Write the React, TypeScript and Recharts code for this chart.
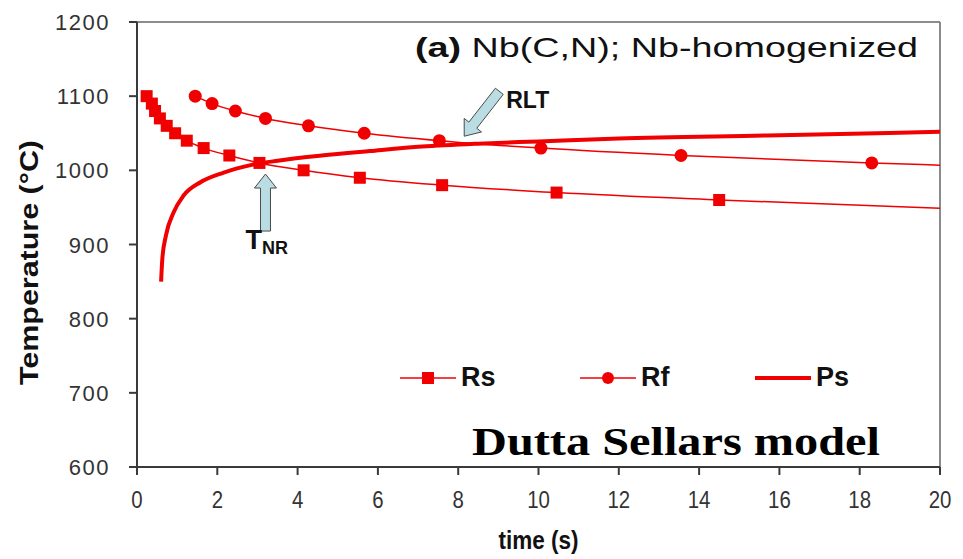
import { Line, LineChart, ReferenceDot, ReferenceLine, XAxis, YAxis } from "recharts";

const rsTime = [0.24, 0.37, 0.45, 0.57, 0.74, 0.95, 1.24, 1.66, 2.3, 3.05, 4.15, 5.55, 7.6, 10.45, 14.5, 20];
const rsTemp = [1100, 1090, 1080, 1070, 1060, 1050, 1040, 1030, 1020, 1010, 1000, 990, 980, 970, 960, 949];

const rfTime = [1.45, 1.87, 2.45, 3.2, 4.27, 5.66, 7.53, 10.06, 13.55, 18.3, 20];
const rfTemp = [1100, 1090, 1080, 1070, 1060, 1050, 1040, 1030, 1020, 1010, 1007];

const psTime = [0.6, 0.63, 0.72, 0.91, 1.16, 1.58, 2.16, 2.83, 3.5, 4.6, 5.8, 7.1, 8.5, 10, 12, 15.7, 20];
const psTemp = [850, 880, 912, 943, 966, 984, 997, 1007, 1013, 1020, 1026, 1032, 1036, 1039, 1043, 1047, 1052];

const xTicks = [0, 2, 4, 6, 8, 10, 12, 14, 16, 18, 20];
const yTicks = [600, 700, 800, 900, 1000, 1100, 1200];
const legendNames = ["Rs", "Rf", "Ps"];

// last Rs / Rf entries only extend the trend line to the frame, no marker
const rsData = rsTime.map((t, i) => ({ t, v: rsTemp[i], mark: i < rsTime.length - 1 }));
const rfData = rfTime.map((t, i) => ({ t, v: rfTemp[i], mark: i < rfTime.length - 1 }));
const psData = psTime.map((t, i) => ({ t, v: psTemp[i] }));

const RED = "#f00000";
const AXIS = "#3a3a3a";
const ARROW_FILL = "#b9dde2";
const SANS = "Liberation Sans, Arial, sans-serif";

function SquareDot(props: any) {
  const { cx, cy, payload, index } = props;
  if (!payload?.mark) return <g key={`rs-${index}`} />;
  return <rect key={`rs-${index}`} x={cx - 6} y={cy - 6} width={12} height={12} fill={RED} />;
}

function CircleDot(props: any) {
  const { cx, cy, payload, index } = props;
  if (!payload?.mark) return <g key={`rf-${index}`} />;
  return <circle key={`rf-${index}`} cx={cx} cy={cy} r={6.5} fill={RED} />;
}

const arrowShape = [
  [0, 0],
  [11, 14],
  [5, 14],
  [5, 57],
  [-5, 57],
  [-5, 14],
  [-11, 14],
];

// block arrow pointing up, tip at (cx, cy)
function UpArrow({ cx, cy }: any) {
  const pts = arrowShape.map(([x, y]) => `${cx + x},${cy + y}`).join(" ");
  return (
    <g>
      <polygon points={pts} fill={ARROW_FILL} stroke="#4a4a4a" strokeWidth={1} />
      <text x={cx - 20} y={cy + 75} fontFamily={SANS} fontWeight="bold" fontSize={27} fill="#111">
        T
        <tspan fontSize={18} dy={5}>NR</tspan>
      </text>
    </g>
  );
}

// block arrow pointing down-left, tip at (cx, cy)
function DiagArrow({ cx, cy }: any) {
  const a = (Math.PI / 180) * 38;
  const pts = arrowShape
    .map(([x, y]) => {
      const rx = x * Math.cos(a) - y * Math.sin(a);
      const ry = x * Math.sin(a) + y * Math.cos(a);
      return `${cx - rx},${cy - ry}`;
    })
    .join(" ");
  return (
    <g>
      <polygon points={pts} fill={ARROW_FILL} stroke="#4a4a4a" strokeWidth={1} />
      <text x={cx + 42} y={cy - 28} fontFamily={SANS} fontWeight="bold" fontSize={23} fill="#111">
        RLT
      </text>
    </g>
  );
}

function XTick({ x, y, payload }: any) {
  return (
    <g transform={`translate(${x} ${y})`}>
      <text x={0} y={31} textAnchor="middle" fill="#333" transform="scale(0.85 1)" style={{ fontFamily: SANS, fontSize: 24 }}>
        {payload.value}
      </text>
    </g>
  );
}

function YTick({ y, payload }: any) {
  return (
    <text x={110} y={y + 8} textAnchor="end" fill="#333" style={{ fontFamily: SANS, fontSize: 22, letterSpacing: 1.5 }}>
      {payload.value}
    </text>
  );
}

function LegendIcon({ kind }: { kind: string }) {
  return (
    <svg width={56} height={20} style={{ marginRight: 5 }}>
      <line x1={0} y1={10} x2={56} y2={10} stroke={RED} strokeWidth={kind === "Ps" ? 4 : 1.5} />
      {kind === "Rs" && <rect x={22} y={4} width={12} height={12} fill={RED} />}
      {kind === "Rf" && <circle cx={28} cy={10} r={6} fill={RED} />}
    </svg>
  );
}

const legendLeft = [400, 580, 755];

export default function App() {
  return (
    <div style={{ position: "relative", width: 963, height: 559, background: "#fff" }}>
      <style>{`body{margin:0}`}</style>
      <LineChart width={963} height={559} margin={{ top: 22, right: 23, bottom: 32, left: 0 }}>
        <XAxis
          dataKey="t"
          type="number"
          domain={[0, 20]}
          ticks={xTicks}
          allowDataOverflow
          height={60}
          stroke={AXIS}
          strokeWidth={2}
          tickSize={8}
          tick={XTick}
          label={(p: any) => {
            const vb = p.viewBox;
            const cx = vb.x + vb.width / 2;
            return (
              <g transform={`translate(${cx} ${vb.y + 82})`}>
                <text x={0} y={0} textAnchor="middle" fill="#111" transform="scale(0.9 1)" style={{ fontFamily: SANS, fontWeight: "bold", fontSize: 25 }}>
                  time (s)
                </text>
              </g>
            );
          }}
        />
        <YAxis
          dataKey="v"
          type="number"
          domain={[600, 1200]}
          ticks={yTicks}
          width={137}
          stroke={AXIS}
          strokeWidth={2}
          tickSize={8}
          tick={YTick}
          label={(p: any) => {
            const vb = p.viewBox;
            const cx = 38;
            const cy = vb.y + vb.height / 2 + 18;
            return (
              <text x={cx} y={cy} transform={`rotate(-90 ${cx} ${cy})`} textAnchor="middle" fontFamily={SANS} fontWeight="bold" fontSize={25} fill="#111" textLength={245} lengthAdjust="spacingAndGlyphs">
                Temperature (°C)
              </text>
            );
          }}
        />
        <ReferenceLine y={1200} stroke="#666" strokeWidth={1.5} />
        <ReferenceLine x={20} stroke="#666" strokeWidth={1.5} />
        <Line data={rsData} dataKey="v" name="Rs" type="monotone" stroke={RED} strokeWidth={1.5} dot={SquareDot} isAnimationActive={false} />
        <Line data={rfData} dataKey="v" name="Rf" type="monotone" stroke={RED} strokeWidth={1.5} dot={CircleDot} isAnimationActive={false} />
        <Line data={psData} dataKey="v" name="Ps" type="monotone" stroke={RED} strokeWidth={4} dot={false} isAnimationActive={false} />
        <ReferenceDot x={3.2} y={995} shape={UpArrow} />
        <ReferenceDot x={8.15} y={1046} shape={DiagArrow} />
      </LineChart>
      {legendNames.map((k, i) => (
        <div
          key={k}
          style={{ position: "absolute", left: legendLeft[i], top: 362, display: "flex", alignItems: "center", fontFamily: SANS, fontWeight: "bold", fontSize: 27, color: "#111" }}
        >
          <LegendIcon kind={k} />
          <span>{k}</span>
        </div>
      ))}
      <svg style={{ position: "absolute", left: 0, top: 0, pointerEvents: "none" }} width={963} height={559}>
        <text x={415} y={57} fontFamily={SANS} fontSize={28} fill="#111" textLength={503} lengthAdjust="spacingAndGlyphs">
          <tspan fontWeight="bold">(a)</tspan> Nb(C,N); Nb-homogenized
        </text>
        <text x={472} y={455} fontFamily="Liberation Serif, Times New Roman, serif" fontWeight="bold" fontSize={41} fill="#000" textLength={408} lengthAdjust="spacingAndGlyphs">
          Dutta Sellars model
        </text>
      </svg>
    </div>
  );
}
